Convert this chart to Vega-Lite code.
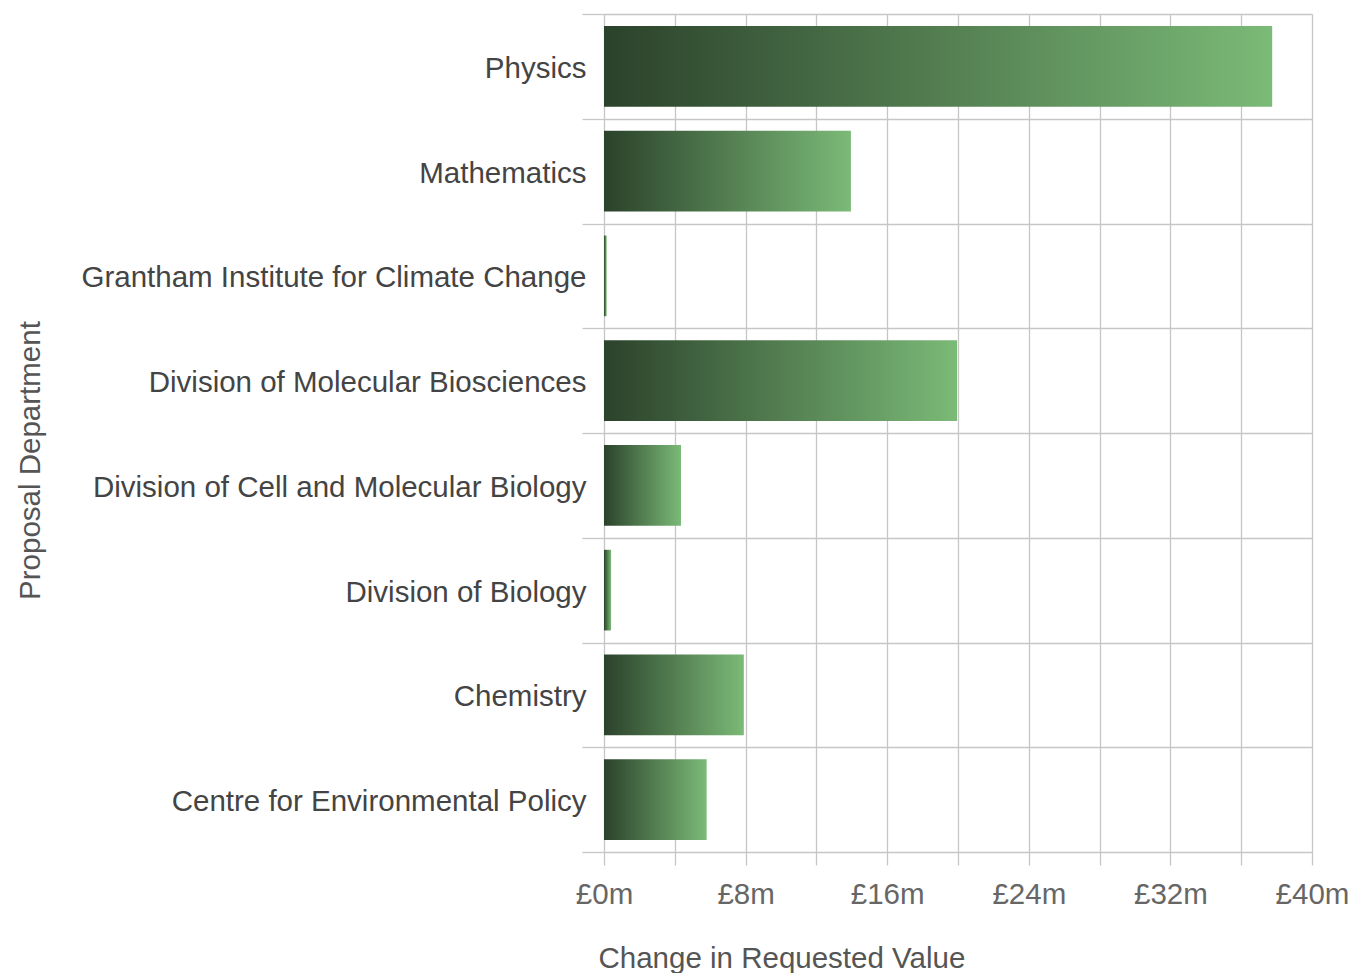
{
  "$schema": "https://vega.github.io/schema/vega-lite/v6.json",
  "autosize": {"type": "none"},
  "padding": {"left": 604, "top": 14, "right": 42, "bottom": 121},
  "width": 708,
  "height": 838,
  "background": "white",
  "config": {
    "font": "Liberation Sans",
    "view": {"stroke": null}
  },
  "data": {
    "values": [
      {"department": "Physics", "change": 37.75},
      {"department": "Mathematics", "change": 13.95},
      {"department": "Grantham Institute for Climate Change", "change": 0.15},
      {"department": "Division of Molecular Biosciences", "change": 19.95},
      {"department": "Division of Cell and Molecular Biology", "change": 4.35},
      {"department": "Division of Biology", "change": 0.4},
      {"department": "Chemistry", "change": 7.9},
      {"department": "Centre for Environmental Policy", "change": 5.8}
    ]
  },
  "mark": {
    "type": "bar",
    "height": {"band": 0.77},
    "color": {
      "gradient": "linear",
      "x1": 0, "y1": 0, "x2": 1, "y2": 0,
      "stops": [
        {"offset": 0, "color": "#2b422b"},
        {"offset": 1, "color": "#7bba77"}
      ]
    }
  },
  "encoding": {
    "y": {
      "field": "department",
      "type": "nominal",
      "sort": "descending",
      "scale": {"paddingInner": 0, "paddingOuter": 0},
      "axis": {
        "title": "Proposal Department",
        "tickBand": "extent",
        "grid": true,
        "gridColor": "#c6c6c6",
        "gridWidth": 1.3,
        "ticks": true,
        "tickSize": 22,
        "tickColor": "#c6c6c6",
        "tickWidth": 1.3,
        "domain": false,
        "labelFontSize": 29.5,
        "labelColor": "#444444",
        "labelPadding": -4,
        "labelLimit": 700,
        "labelOffset": 2,
        "titleFontSize": 29.5,
        "titleFontWeight": "normal",
        "titleColor": "#555555",
        "titleX": -574,
        "titleY": 446,
        "titleBaseline": "middle",
        "titleAlign": "center"
      }
    },
    "x": {
      "field": "change",
      "type": "quantitative",
      "scale": {"domain": [0, 40], "nice": false},
      "axis": {
        "title": "Change in Requested Value",
        "values": [0, 4, 8, 12, 16, 20, 24, 28, 32, 36, 40],
        "labelExpr": "datum.value % 8 == 0 ? '£' + datum.value + 'm' : ''",
        "grid": true,
        "gridColor": "#c6c6c6",
        "gridWidth": 1.3,
        "ticks": true,
        "tickSize": 13,
        "tickColor": "#c6c6c6",
        "tickWidth": 1.3,
        "domain": false,
        "labelFontSize": 29.5,
        "labelColor": "#666666",
        "labelBaseline": "alphabetic",
        "labelPadding": 38,
        "labelFlush": false,
        "labelOverlap": false,
        "titleFontSize": 29.5,
        "titleFontWeight": "normal",
        "titleColor": "#555555",
        "titleX": -6,
        "titleY": 115,
        "titleAlign": "left",
        "titleBaseline": "alphabetic"
      }
    }
  }
}
